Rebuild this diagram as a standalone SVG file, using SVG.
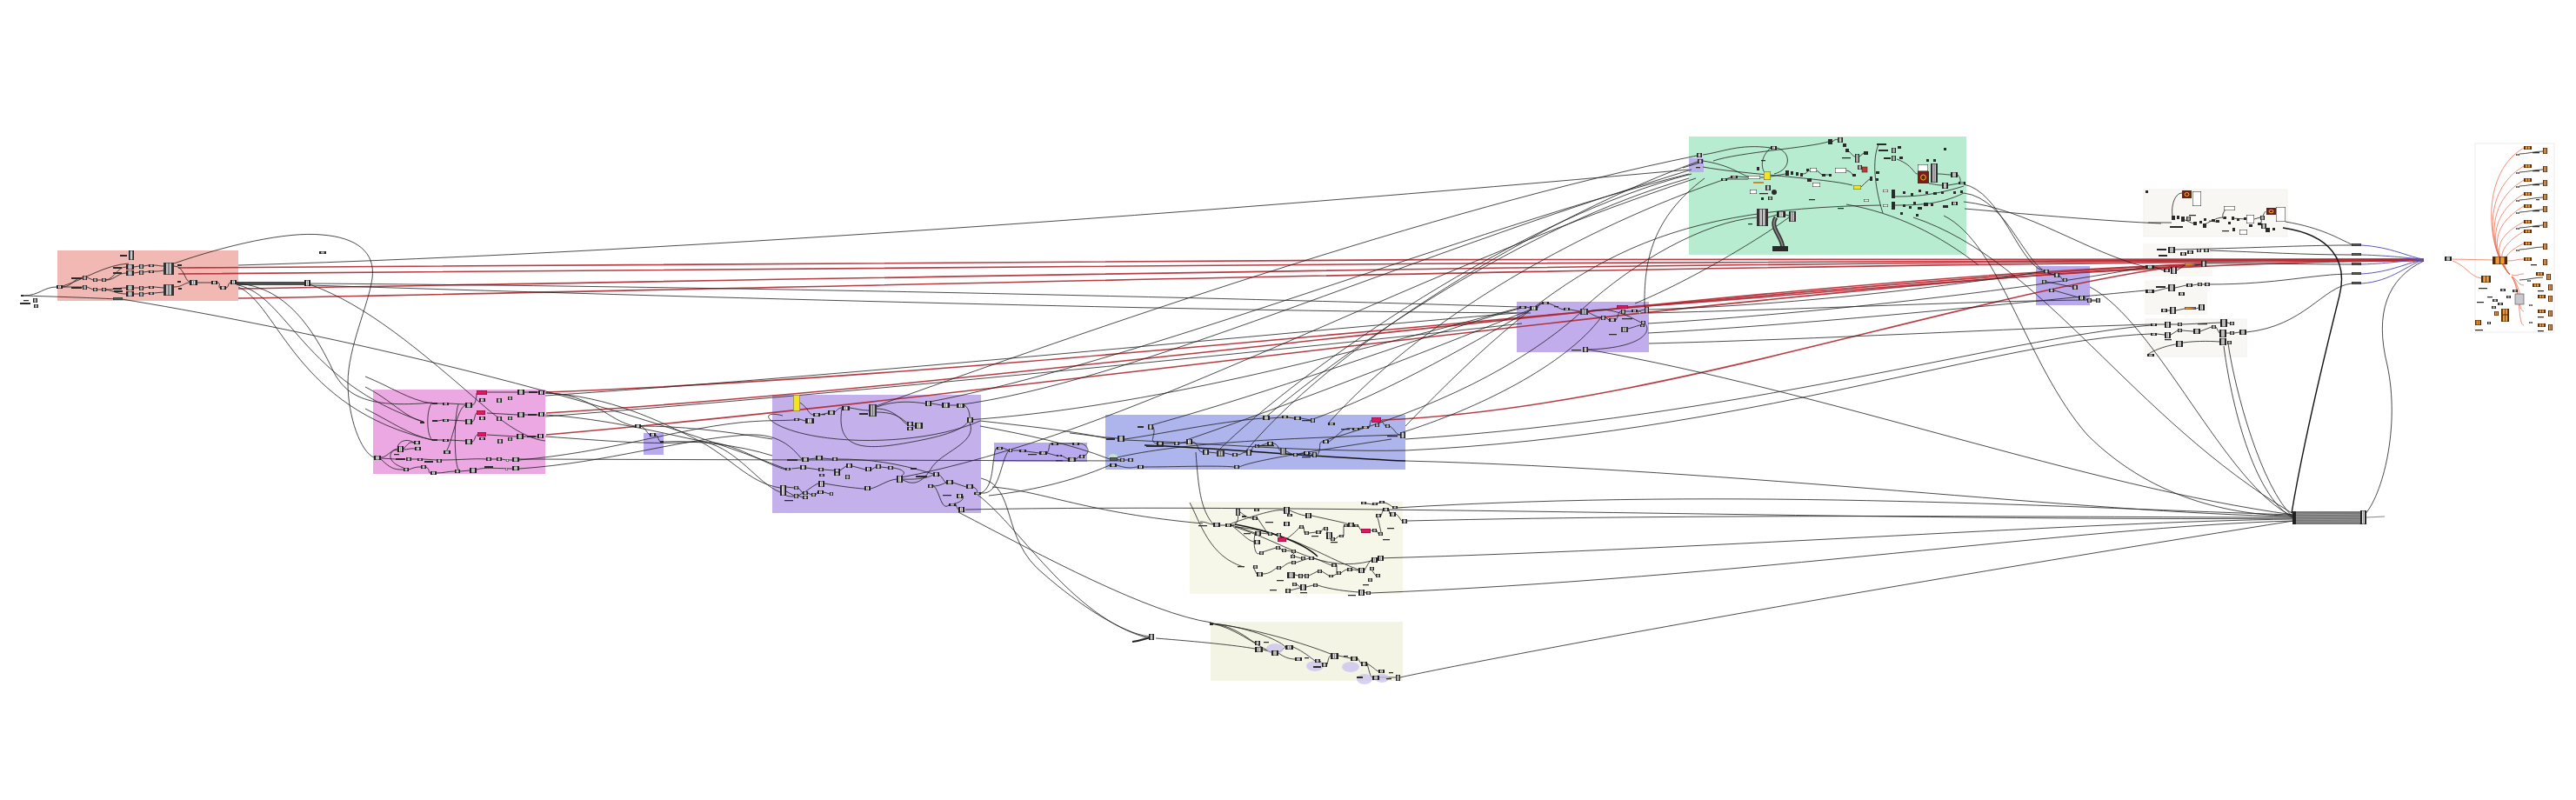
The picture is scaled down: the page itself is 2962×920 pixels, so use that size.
<svg xmlns="http://www.w3.org/2000/svg" width="2962" height="920" viewBox="0 0 2962 920">
<style>
.w{fill:none;stroke:#1e1e1e;stroke-width:0.8}
.wk{fill:none;stroke:#151515;stroke-width:1.4}
.r{fill:none;stroke:#b02630;stroke-width:1.6;stroke-opacity:0.9}
.bl{fill:none;stroke:#5858b8;stroke-width:1}
.or{fill:none;stroke:#ec6a4c;stroke-width:1;stroke-opacity:0.75}
.lb{fill:#c9c2ee;opacity:0.75}
</style>
<defs>
<symbol id="c" viewBox="0 0 10 10" preserveAspectRatio="none"><rect width="10" height="10" fill="#ececec" stroke="#111" stroke-width="1" vector-effect="non-scaling-stroke"/><rect width="2.8" height="10" fill="#222"/><rect x="7.2" width="2.8" height="10" fill="#222"/><rect x="4.5" y="0.5" width="1" height="9" fill="#777"/></symbol>
<symbol id="d" viewBox="0 0 10 10" preserveAspectRatio="none"><rect width="10" height="10" fill="#2a2a2a"/></symbol>
<symbol id="g" viewBox="0 0 10 10" preserveAspectRatio="none"><rect width="10" height="10" fill="#5a5a5a" stroke="#222" stroke-width="1" vector-effect="non-scaling-stroke"/></symbol>
<symbol id="wb" viewBox="0 0 10 10" preserveAspectRatio="none"><rect width="10" height="10" fill="#fff" stroke="#222" stroke-width="1" vector-effect="non-scaling-stroke"/></symbol>
<symbol id="p" viewBox="0 0 10 10" preserveAspectRatio="none"><rect width="10" height="10" fill="#e0175e" stroke="#7d0a32" stroke-width="1" vector-effect="non-scaling-stroke"/></symbol>
<symbol id="y" viewBox="0 0 10 10" preserveAspectRatio="none"><rect width="10" height="10" fill="#f2e22a" stroke="#555" stroke-width="1" vector-effect="non-scaling-stroke"/></symbol>
<symbol id="o" viewBox="0 0 10 10" preserveAspectRatio="none"><rect width="10" height="10" fill="#f39a35" stroke="#4d2a0c" stroke-width="1" vector-effect="non-scaling-stroke"/><rect width="2" height="10" fill="#4d2a0c"/><rect x="8" width="2" height="10" fill="#4d2a0c"/><rect x="4.6" width="0.8" height="10" fill="#4d2a0c"/></symbol>
<symbol id="br" viewBox="0 0 10 10" preserveAspectRatio="none"><rect width="10" height="10" fill="#7a1d12" stroke="#333" stroke-width="1" vector-effect="non-scaling-stroke"/><circle cx="5" cy="5" r="2.2" fill="none" stroke="#e8c23a" stroke-width="1" vector-effect="non-scaling-stroke"/></symbol>
<symbol id="t" viewBox="0 0 10 10" preserveAspectRatio="none"><rect width="10" height="10" fill="#c4c4c8" stroke="#111" stroke-width="1" vector-effect="non-scaling-stroke"/><rect width="2.5" height="10" fill="#333"/><rect x="7.5" width="2.5" height="10" fill="#333"/><rect x="4.6" width="0.8" height="10" fill="#444"/></symbol>
<linearGradient id="og" x1="0" x2="1" y1="0" y2="0"><stop offset="0" stop-color="#f5a030"/><stop offset="0.6" stop-color="#f08a20"/><stop offset="1" stop-color="#3060c0"/></linearGradient>
<symbol id="ob" viewBox="0 0 10 10" preserveAspectRatio="none"><rect width="10" height="10" fill="url(#og)" stroke="#333" stroke-width="1" vector-effect="non-scaling-stroke"/></symbol>
</defs>
<rect width="2962" height="920" fill="#ffffff"/>

<g id="groups">
<rect id="grp-red" x="66" y="288" width="208" height="58" fill="#f2b8b4"/>
<rect id="grp-magenta" x="429" y="448" width="198" height="97" fill="#eba8e2"/>
<rect id="grp-smallpurple1" x="740" y="498" width="23" height="25" fill="#b9a9ee"/>
<rect id="grp-purple1" x="888" y="454" width="240" height="136" fill="#c4b1ec"/>
<rect id="grp-smallpurple2" x="1143" y="509" width="107" height="22" fill="#b9a9ee"/>
<rect id="grp-blue" x="1271" y="477" width="345" height="63" fill="#aeb4ec"/>
<rect id="grp-purple2" x="1744" y="347" width="152" height="58" fill="#c1adeb"/>
<rect id="grp-green" x="1942" y="157" width="319" height="136" fill="#b8ecd0"/>
<rect id="grp-greenpurple" x="1942" y="182" width="17" height="16" fill="#b8b0e6"/>
<rect id="grp-smallpurple3" x="2341" y="306" width="62" height="45" fill="#b7a9ea"/>
<rect id="grp-cream1" x="1368" y="577" width="245" height="106" fill="#f6f6e9"/>
<rect id="grp-cream2" x="1392" y="715" width="221" height="68" fill="#f4f4e5"/>
<rect id="grp-panelA" x="2465" y="218" width="165" height="54" fill="#f8f7f3" stroke="#f1f1ec"/>
<rect id="grp-panelB" x="2464" y="280" width="80" height="38" fill="#f9f8f5"/>
<rect id="grp-panelB2" x="2466" y="322" width="72" height="40" fill="#f8f7f3"/>
<rect id="grp-panelC" x="2467" y="367" width="116" height="43" fill="#f8f7f3" stroke="#f1f1ec"/>
<rect id="grp-rightpanel" x="2846" y="165" width="91" height="217" fill="#ffffff" stroke="#ececec"/>
</g>

<g id="connectors">
<path class="r" d="M205,308 C 900,300 2000,296 2787,298"/>
<path class="r" d="M205,315 C 900,310 2000,298 2787,298"/>
<path class="r" d="M274,332 C 1000,320 2000,300 2787,299"/>
<path class="r" d="M274,343 C 1000,330 2000,302 2787,300"/>
<path class="r" d="M628,451 C 1200,430 2000,330 2531,303"/>
<path class="r" d="M628,475 C 1200,440 2000,320 2531,304"/>
<path class="r" d="M628,500 C 1200,450 2000,330 2531,305"/>
<path class="r" d="M1589,483 C 1900,470 2250,340 2512,305"/>
<path class="r" d="M1872,353 C 2100,340 2350,305 2787,299"/>

<path class="w" d="M27,340 C 45,340 50,330 65,330"/>
<path class="w" d="M72,330 C 82,330 85,320 95,319"/>
<path class="w" d="M72,330 C 82,330 85,330 95,330"/>
<path class="w" d="M72,329 C 100,320 120,305 148,303"/>
<path class="w" d="M100,319 L107,322 M112,322 L117,322 M100,330 L107,333 M112,333 L117,333"/>
<path class="w" d="M122,322 C 132,320 135,307 145,307 M122,322 C 132,322 135,314 145,314 M122,333 C 132,333 135,331 145,331 M122,333 C 132,335 135,338 145,338"/>
<path class="w" d="M154,307 L160,306 M154,314 L160,313 M165,306 L171,305 M165,313 L171,312 M177,305 C 182,305 183,306 188,306 M177,312 C 182,312 183,312 188,311"/>
<path class="w" d="M154,331 L160,331 M154,338 L160,338 M165,331 L171,330 M165,338 L171,337 M177,330 L188,331 M177,337 L188,336"/>
<path class="w" d="M200,330 C 210,330 212,325 218,325 M200,306 C 212,306 212,323 218,324 M227,325 L243,325 M250,325 C 255,325 250,331 253,331 M260,331 C 263,331 262,325 265,325"/>
<path class="wk" d="M272,325 L350,325 M272,327 L350,327"/>
<path class="w" d="M25,340 C 100,342 130,344 140,344"/>
<path class="w" d="M200,303 C 260,282 330,266 370,270 C 410,273 432,290 428,320 C 424,350 400,400 400,440 C 400,480 415,520 430,526"/>
<path class="w" d="M273,326 C 330,330 360,380 380,420 C 395,455 420,470 497,463"/>
<path class="w" d="M274,328 C 330,340 350,440 487,485"/>
<path class="w" d="M274,330 C 320,350 340,470 497,506"/>
<path class="w" d="M356,327 C 420,350 480,400 560,470 C 590,495 610,505 627,507"/>
<path class="w" d="M140,344 C 300,370 650,440 903,539"/>
<path class="w" d="M356,326 C 900,330 1500,345 1747,353"/>
<path class="w" d="M356,328 C 900,345 1400,358 1760,360"/>
<path class="w" d="M274,305 C 800,290 1500,235 1942,195"/>
<path class="w" d="M627,455 C 1000,430 1500,380 1744,360"/>
<path class="w" d="M627,479 C 1000,450 1500,400 1750,372"/>

<path class="w" d="M560,451 L595,451 M603,451 L619,451 M560,475 L595,477 M603,477 L619,477 M560,500 L594,502 M602,502 L618,502"/>
<path class="w" d="M543,466 C 548,465 548,452 548,452 M543,485 C 546,485 546,475 548,475 M543,508 C 546,508 546,500 549,500"/>
<path class="w" d="M516,464 L535,465 M516,483 L535,484 M516,506 L535,507 M503,464 L509,464 M503,484 L509,483 M503,506 L509,506"/>
<path class="w" d="M497,463 C 490,470 490,500 497,506 M513,519 C 520,510 525,470 535,466 M527,465 C 522,480 522,530 527,540"/>
<path class="w" d="M464,516 C 470,510 470,508 476,509 M464,517 C 470,517 472,515 477,516 M438,526 C 445,526 450,517 457,516 M438,527 L455,528 M471,528 L480,528 M486,528 L502,529"/>
<path class="w" d="M508,529 C 530,529 545,527 559,528 M565,528 L571,528 M577,528 L582,529 M585,529 L589,529"/>
<path class="w" d="M438,528 C 450,540 455,540 464,540 M470,540 C 478,537 480,537 484,537 M490,537 C 495,540 492,544 495,544 M502,544 C 510,544 515,542 523,542 M529,542 L540,541 M548,540 C 555,538 560,538 589,539"/>
<path class="w" d="M457,514 C 460,505 470,505 476,509 M464,538 C 440,530 450,515 457,518"/>
<path class="w" d="M420,433 C 450,445 470,460 497,464 M420,445 C 450,460 465,480 487,485 M420,470 C 450,485 470,500 497,506"/>

<path class="w" d="M627,452 C 700,455 760,485 800,505 C 840,525 860,555 897,561"/>
<path class="w" d="M627,477 C 700,482 760,498 810,508 C 850,518 870,555 897,566"/>
<path class="w" d="M627,502 C 700,507 750,512 800,508 C 840,505 870,530 903,540"/>
<path class="w" d="M597,529 C 700,520 770,495 850,486 C 880,483 895,484 913,483"/>
<path class="w" d="M597,539 C 700,532 780,505 860,500 C 900,498 915,520 922,528"/>
<path class="w" d="M763,508 C 800,506 850,512 888,524 M737,490 C 780,490 830,495 888,505"/>
<path class="w" d="M597,528 L1290,530"/>
<path class="w" d="M627,452 C 680,452 700,485 730,490 M737,490 C 742,492 744,498 747,500 M754,500 C 757,502 757,506 759,508"/>

<path class="w" d="M920,463 C 930,470 930,477 935,477 M943,477 L952,475 M960,474 C 964,470 965,469 968,469 M977,469 C 985,470 990,472 999,472"/>
<path class="w" d="M1008,470 C 1030,470 1040,488 1043,488 M1008,474 C 1040,474 1040,490 1052,490 M1008,468 C 1030,460 1050,462 1064,464 M1071,464 L1083,466 M1092,466 L1100,466 M1109,466 C 1115,470 1115,478 1115,481 M919,482 L926,484"/>
<path class="w" d="M900,478 C 870,470 880,492 940,502 C 1000,512 1080,505 1127,484"/>
<path class="w" d="M968,470 C 960,522 1000,518 1060,506 C 1100,498 1110,490 1114,484"/>
<path class="w" d="M1115,486 C 1125,510 1080,520 1070,540 C 1060,555 1050,560 1035,550"/>
<path class="w" d="M930,528 L938,527 M946,527 L957,528 M963,528 C 1000,528 1030,532 1073,545"/>
<path class="w" d="M910,539 L920,538 M927,538 L941,540 M947,540 L959,541 M966,541 L973,536 M980,536 L995,540 M1002,540 L1007,537 M1013,537 L1021,538 M1027,538 C 1040,540 1045,545 1031,550"/>
<path class="w" d="M904,560 L913,561 M904,565 L913,570 M918,561 L923,567 M918,570 L923,572 M929,567 L933,569 M938,569 L940,566 M947,566 L954,568"/>
<path class="w" d="M904,570 C 920,575 930,560 941,556 M948,556 C 970,560 990,562 994,562 M1001,562 C 1010,560 1020,552 1031,551 M1038,551 C 1060,552 1070,548 1073,546"/>
<path class="w" d="M1080,546 C 1085,550 1085,554 1088,555 M1096,555 L1111,560 M1073,559 C 1080,559 1085,556 1088,555 M1119,560 C 1125,563 1125,567 1120,568 M1107,570 C 1110,575 1100,580 1091,580 M1099,580 C 1100,583 1101,585 1102,586 M1091,581 C 1080,590 1080,550 1067,559"/>
<path class="w" d="M1128,567 C 1145,560 1140,520 1146,515 M1128,567 C 1150,570 1150,530 1160,518"/>
<path class="w" d="M1153,515 L1160,518 M1164,518 L1172,518 M1180,519 L1195,521 M1204,521 C 1208,515 1205,510 1209,510 M1217,510 L1233,510 M1204,521 L1215,524 M1221,524 L1228,528 M1237,528 L1241,525 M1241,510 C 1250,510 1255,520 1247,524"/>

<path class="w" d="M1112,483 C 1300,470 1500,420 1747,354"/>
<path class="w" d="M1100,466 C 1300,440 1600,300 1945,195"/>
<path class="w" d="M1064,463 C 1300,420 1700,260 1942,200"/>
<path class="w" d="M1031,550 C 1300,500 1600,320 1950,205"/>
<path class="w" d="M999,470 C 1250,380 1650,240 1951,179"/>
<path class="w" d="M1127,484 C 1180,490 1230,495 1272,504 M1127,490 C 1180,500 1230,510 1276,528 M1137,570 C 1180,565 1230,555 1276,535"/>
<path class="w" d="M1110,586 C 1500,578 2200,600 2637,596"/>
<path class="w" d="M1141,560 C 1200,565 1250,590 1383,602"/>
<path class="w" d="M1128,550 C 1170,560 1150,620 1200,660 C 1240,695 1290,728 1321,732"/>
<path class="w" d="M1120,566 C 1170,600 1230,710 1321,734"/>

<path class="w" d="M1230,498 C 1250,500 1265,503 1285,504 M1293,505 C 1330,500 1400,485 1452,481 M1460,481 L1474,480 M1481,480 L1488,481 M1496,481 L1507,483"/>
<path class="w" d="M1326,491 C 1330,500 1320,508 1330,510 M1338,510 L1350,510 M1356,510 L1364,508 M1371,508 C 1380,510 1375,519 1383,520 M1390,520 L1399,521 M1408,521 L1417,523 M1423,523 C 1428,523 1428,520 1433,520 M1439,520 C 1440,515 1440,513 1443,513 M1448,513 L1457,510"/>
<path class="w" d="M1464,510 C 1470,510 1470,518 1472,518 M1479,519 L1487,523 M1492,523 L1499,521 M1506,521 L1509,523 M1515,523 C 1520,515 1515,508 1521,508 M1528,508 C 1540,500 1545,490 1555,493 M1563,493 L1566,492 M1574,492 C 1576,488 1575,484 1577,483 M1588,483 L1593,490 M1598,490 C 1605,495 1605,500 1610,500"/>
<path class="w" d="M1284,528 L1288,529 M1293,529 L1297,529 M1284,535 C 1300,540 1303,537 1308,537 M1315,537 C 1350,537 1400,535 1419,537 M1425,537 C 1440,530 1500,520 1600,505"/>
<path class="w" d="M1276,528 C 1350,510 1450,505 1610,500 M1293,506 C 1400,510 1500,520 1616,518"/>
<path class="wk" d="M1316,512 C 1400,515 1500,525 1616,530"/>
<path class="w" d="M1320,490 C 1500,440 1650,380 1747,355 M1364,506 C 1500,460 1700,380 1760,356 M1507,483 C 1600,450 1700,390 1773,349 M1521,507 C 1650,470 1750,420 1817,360 M1610,498 C 1700,470 1800,420 1841,365"/>
<path class="w" d="M1942,205 C 1750,260 1550,400 1455,480 M1952,186 C 1800,240 1550,380 1433,518 M1945,200 C 1750,250 1500,420 1399,520 M1990,204 C 1850,250 1650,350 1527,487"/>
<path class="w" d="M1616,530 C 2000,540 2400,590 2637,594 M1616,518 C 2000,500 2300,390 2473,384 M1616,505 C 2000,480 2300,390 2473,374"/>
<path class="w" d="M1375,520 C 1378,560 1380,585 1395,603"/>

<path class="w" d="M1755,353 L1759,354 M1768,354 C 1770,350 1770,349 1773,349 M1781,349 C 1790,352 1792,355 1798,356 M1805,356 L1817,358 M1826,359 C 1832,362 1836,365 1841,365 M1846,365 L1850,368 M1858,368 C 1862,362 1860,358 1864,358 M1869,358 L1876,358 M1883,358 L1891,356 M1872,378 C 1880,376 1884,374 1886,374"/>
<path class="w" d="M1891,372 C 1900,380 1890,400 1826,402 M1826,358 C 1850,352 1870,362 1887,371"/>
<path class="w" d="M1895,356 C 2100,350 2300,320 2350,312 M1895,372 C 2100,360 2350,330 2467,307 M1895,383 C 2100,372 2350,345 2467,334 M1896,395 C 2100,390 2300,378 2473,373 M1895,360 C 2100,355 2300,345 2410,345"/>
<path class="w" d="M1826,402 C 2100,450 2400,560 2637,592"/>
<path class="w" d="M1960,205 C 1900,250 1890,300 1891,353"/>

<path class="w" d="M1958,178 C 1980,175 2000,165 2036,170 M2043,170 C 2060,175 2060,195 2040,200 M2036,170 C 2025,180 2025,190 2028,197 M2024,204 L2028,204 M1998,203 L2010,204 M1986,206 L2010,206 M1958,185 C 1990,190 2000,200 2010,203"/>
<path class="w" d="M1958,192 C 2000,200 2100,205 2130,213 M1935,193 L1958,186 M2036,203 L2053,200 M2073,200 C 2078,200 2078,196 2081,196 M2089,196 L2095,201 M2099,201 L2103,201 M2123,196 C 2128,197 2130,200 2130,201 M2140,215 C 2145,210 2148,207 2150,206"/>
<path class="w" d="M2107,163 C 2110,160 2112,160 2113,161 M2126,174 C 2130,178 2131,180 2133,180 M2138,180 L2143,176 M1970,185 C 2000,175 2080,170 2102,163 M2160,166 C 2150,190 2160,230 2165,245"/>
<path class="w" d="M1820,355 C 1880,300 1960,255 2020,250 M1616,490 C 1800,300 1900,240 2163,236 M2123,235 C 2180,245 2230,270 2275,305 M1880,349 C 1950,320 2030,270 2057,250 M2033,250 L2043,247 M2053,247 L2057,248"/>
<path d="M2042,250 C 2034,262 2050,272 2050,286" fill="none" stroke="#3a3a3a" stroke-width="5"/>
<path d="M2042,250 C 2034,262 2050,272 2050,286" fill="none" stroke="#8a8a8a" stroke-width="1.5"/>
<path class="w" d="M2181,183 C 2200,190 2200,200 2205,200 M2228,200 C 2235,200 2238,201 2243,201 M2251,201 C 2255,205 2255,210 2252,210 M2218,211 C 2225,212 2228,213 2233,213 M2240,213 L2252,211 M2179,226 C 2195,226 2220,226 2258,214 M2179,236 C 2200,236 2230,236 2258,222"/>
<path class="w" d="M2258,212 C 2300,220 2320,300 2348,311 M2258,222 C 2310,228 2330,315 2362,316 M2258,232 C 2330,240 2400,290 2467,307 M2259,240 C 2350,248 2420,254 2485,257"/>
<path class="w" d="M2235,248 C 2300,280 2330,420 2400,500 C 2480,580 2580,593 2637,593"/>
<path class="w" d="M2200,250 C 2350,300 2450,480 2637,591"/>

<path class="w" d="M2499,287 C 2600,285 2650,282 2704,282 M2541,288 C 2600,290 2650,293 2704,293 M2537,303 C 2620,303 2660,304 2704,304 M2541,327 C 2620,327 2660,315 2704,315 M2583,382 C 2650,375 2670,330 2704,326 M2628,255 C 2670,262 2690,275 2704,281"/>
<path class="wk" d="M2625,262 C 2680,270 2700,300 2690,340 C 2680,380 2650,500 2635,590"/>
<path class="bl" d="M2715,282 C 2750,284 2770,296 2787,298 M2715,293 C 2750,294 2770,297 2787,298 M2715,304 C 2750,303 2770,299 2787,298 M2715,315 C 2750,313 2770,301 2787,299 M2715,326 C 2750,324 2770,303 2787,299"/>
<path class="w" d="M2787,300 C 2745,320 2730,360 2745,420 C 2760,490 2740,570 2718,593"/>
<path class="w" d="M2562,395 C 2570,450 2600,560 2637,595 M2557,398 C 2565,460 2590,570 2637,596 M2403,330 C 2480,370 2560,560 2637,594"/>
<path class="w" d="M2477,307 L2488,311 M2503,311 L2512,305 M2525,305 L2531,304 M2477,335 L2493,331 M2501,331 L2514,328 M2521,328 L2527,327 M2532,327 L2535,327 M2492,357 L2495,357 M2502,357 L2512,355 M2525,355 L2528,354"/>
<path class="w" d="M2480,373 L2489,373 M2496,373 L2504,373 M2509,373 L2553,371 M2561,371 L2564,372 M2480,384 L2489,385 M2496,385 L2504,380 M2509,380 L2522,381 M2530,381 L2543,376 M2548,376 L2552,383 M2560,383 L2564,383 M2569,383 L2575,382 M2504,395 C 2520,392 2540,392 2552,393 M2469,408 C 2480,400 2500,396 2502,396"/>
<path class="w" d="M2499,252 C 2495,240 2500,222 2509,222 M2535,258 C 2545,253 2550,250 2557,250 M2560,240 C 2555,245 2555,250 2557,252 M2605,243 C 2600,250 2600,255 2600,258 M2470,256 L2497,256 M2510,252 L2522,257 M2540,254 L2548,255 M2566,251 L2583,252 M2592,252 L2599,250"/>
<path class="w" d="M2350,312 L2362,316 M2368,317 L2372,322 M2353,324 L2383,330 M2362,334 L2390,342 M2397,342 L2400,345 M2405,346 L2410,346"/>

<path class="or" d="M2819,298 L2866,299 M2820,300 C 2835,305 2840,318 2853,320"/>
<path class="or" d="M2886,316 C 2860,290 2850,200 2902,170 M2886,316 C 2862,290 2852,220 2902,191 M2886,316 C 2864,290 2855,235 2902,207 M2886,316 C 2866,292 2857,250 2902,223 M2886,316 C 2868,292 2860,262 2902,237 M2886,316 C 2870,295 2864,275 2902,255 M2886,316 C 2873,300 2870,285 2902,266 M2886,316 C 2876,305 2876,292 2902,280"/>
<path class="or" d="M2883,300 C 2892,300 2894,298 2902,298 M2888,316 C 2895,318 2895,315 2902,315 M2888,318 C 2896,322 2895,328 2902,328 M2888,318 C 2897,326 2895,341 2902,341 M2888,318 C 2898,330 2895,358 2902,358 M2888,318 C 2899,335 2895,374 2902,374"/>
<path class="w" d="M2897,177 C 2905,177 2915,174 2924,174 M2897,198 C 2905,198 2915,195 2924,195 M2897,214 C 2905,214 2915,211 2924,211 M2897,230 C 2905,230 2915,227 2924,227 M2897,244 C 2905,244 2915,241 2924,241 M2897,262 C 2905,262 2915,259 2924,259 M2897,287 C 2905,287 2915,284 2924,284 M2897,322 C 2905,322 2915,319 2924,319"/>

<path class="w" d="M1380,600 C 1388,600 1390,603 1395,603 M1403,604 L1409,604 M1416,604 C 1425,604 1425,590 1421,589 M1426,589 C 1430,592 1435,596 1440,596 M1446,596 L1458,614 M1416,604 C 1425,606 1435,610 1443,613 M1416,604 C 1430,615 1435,622 1442,623"/>
<path class="w" d="M1450,613 L1458,614 M1463,614 L1468,615 M1479,620 C 1490,612 1495,606 1494,606 M1499,606 L1500,613 M1505,613 L1513,612 M1519,612 C 1521,608 1521,608 1522,608 M1527,608 L1525,614 M1532,616 L1530,620 M1535,620 L1540,616 M1545,616 C 1545,610 1545,606 1545,605 M1562,605 L1565,610 M1576,610 L1578,610 M1583,610 L1585,614"/>
<path class="w" d="M1588,612 C 1585,600 1585,595 1582,593 M1588,593 C 1590,588 1590,586 1590,586 M1597,586 L1598,591 M1605,591 C 1610,595 1610,598 1612,599 M1416,602 C 1450,590 1470,585 1476,587 M1483,587 C 1490,590 1495,592 1501,593 M1508,593 C 1540,600 1550,602 1550,603 M1571,579 L1578,580 M1584,579 L1586,578 M1592,578 C 1598,580 1600,582 1601,583"/>
<path class="w" d="M1420,606 C 1480,610 1520,640 1562,655 M1420,606 C 1480,625 1520,660 1577,645"/>
<path class="wk" d="M1420,603 C 1460,610 1500,625 1515,640"/>
<path class="w" d="M1441,652 L1445,660 M1452,660 C 1460,660 1465,655 1468,653 M1473,653 C 1478,650 1480,647 1485,647 M1490,647 L1505,642 M1511,642 C 1520,645 1525,648 1531,650 M1537,650 L1537,659 M1542,659 C 1545,656 1548,655 1549,655 M1555,655 L1562,656 M1569,656 C 1572,650 1575,645 1577,644 M1576,654 L1582,662"/>
<path class="w" d="M1485,660 L1493,662 M1498,662 L1500,662 M1505,662 L1515,657 M1520,657 L1528,662 M1533,662 L1537,660 M1491,672 L1495,675 M1502,675 L1510,673 M1483,679 L1495,676 M1515,673 C 1530,678 1550,680 1562,681 M1569,681 L1571,682"/>
<path class="w" d="M1448,636 L1467,630 M1472,630 L1474,633 M1479,633 L1485,634 M1490,634 L1484,640 M1489,640 L1496,642 M1443,614 C 1440,630 1445,640 1448,636"/>
<path class="w" d="M1368,578 C 1380,600 1390,640 1430,652"/>
<path class="w" d="M1618,599 C 2000,590 2400,595 2637,595 M1584,642 C 2000,630 2400,600 2637,597 M1576,682 C 2000,665 2400,605 2637,599 M1605,584 C 2000,560 2400,585 2637,592"/>

<path class="w" d="M1393,717 C 1420,720 1435,735 1443,739 M1393,717 C 1420,722 1440,740 1462,750 M1393,717 C 1430,720 1470,735 1478,744 M1393,717 C 1440,722 1500,740 1530,752 M1329,734 C 1380,738 1420,742 1443,746"/>
<path class="w" d="M1452,747 L1462,750 M1470,750 C 1475,748 1476,745 1478,744 M1487,744 C 1500,750 1505,755 1512,760 M1470,751 C 1478,757 1485,758 1489,758 M1518,760 L1520,764 M1526,764 C 1528,756 1528,755 1530,754 M1539,754 L1553,757 M1561,757 L1565,763 M1572,763 C 1580,768 1582,771 1585,772 M1572,763 C 1575,775 1576,778 1578,779 M1586,779 L1605,779"/>
<path class="w" d="M1610,779 C 1650,770 2000,700 2637,599"/>
<path class="w" d="M1102,589 C 1200,640 1320,705 1393,716"/>
<path d="M1302,738 C 1312,737 1318,734 1323,733" fill="none" stroke="#222" stroke-width="2.2"/>

<path d="M2721,595 L2742,594" fill="none" stroke="#666" stroke-width="0.8"/>
</g>

<g id="nodes">
<g id="nodes-red">
<use id="r1" href="#c" x="148" y="288" width="6" height="11"/>
<use id="r2" href="#d" x="138" y="293" width="8" height="2"/>
<use id="r3" href="#c" x="145" y="304" width="9" height="6"/>
<use id="r4" href="#c" x="145" y="311" width="9" height="6"/>
<use id="r5" href="#c" x="160" y="304" width="5" height="5"/>
<use id="r6" href="#c" x="160" y="311" width="5" height="5"/>
<use id="r7" href="#c" x="171" y="304" width="6" height="3"/>
<use id="r8" href="#c" x="171" y="311" width="6" height="3"/>
<use id="r9" href="#t" x="188" y="302" width="12" height="14"/>
<use id="r10" href="#d" x="204" y="304" width="5" height="2"/>
<use id="r11" href="#c" x="145" y="328" width="9" height="6"/>
<use id="r12" href="#c" x="145" y="335" width="9" height="6"/>
<use id="r13" href="#c" x="160" y="329" width="5" height="5"/>
<use id="r14" href="#c" x="160" y="336" width="5" height="5"/>
<use id="r15" href="#c" x="171" y="329" width="6" height="3"/>
<use id="r16" href="#c" x="171" y="336" width="6" height="3"/>
<use id="r17" href="#t" x="188" y="327" width="12" height="13"/>
<use id="r18" href="#d" x="204" y="323" width="4" height="2"/>
<use id="r19" href="#d" x="205" y="331" width="4" height="2"/>
<use id="r20" href="#c" x="218" y="322" width="9" height="6"/>
<use id="r21" href="#c" x="243" y="323" width="7" height="4"/>
<use id="r22" href="#c" x="253" y="329" width="7" height="4"/>
<use id="r23" href="#c" x="265" y="322" width="7" height="5"/>
<use id="r24" href="#c" x="350" y="322" width="7" height="7"/>
<use id="r25" href="#c" x="65" y="328" width="7" height="4"/>
<use id="r26" href="#d" x="82" y="319" width="12" height="2"/>
<use id="r27" href="#c" x="95" y="317" width="5" height="5"/>
<use id="r28" href="#c" x="107" y="320" width="5" height="4"/>
<use id="r29" href="#c" x="117" y="320" width="5" height="4"/>
<use id="r30" href="#d" x="82" y="330" width="12" height="2"/>
<use id="r31" href="#c" x="95" y="328" width="5" height="5"/>
<use id="r32" href="#c" x="107" y="331" width="5" height="4"/>
<use id="r33" href="#c" x="117" y="331" width="5" height="4"/>
<use id="r34" href="#d" x="130" y="307" width="10" height="2"/>
<use id="r35" href="#d" x="130" y="313" width="10" height="2"/>
<use id="r36" href="#d" x="130" y="331" width="10" height="2"/>
<use id="r37" href="#d" x="131" y="334" width="10" height="2"/>
<use id="r38" href="#g" x="130" y="342" width="11" height="3"/>
<use id="r39" href="#d" x="24" y="339" width="3" height="2"/>
<use id="r40" href="#c" x="38" y="343" width="5" height="5"/>
<use id="r41" href="#c" x="39" y="350" width="5" height="4"/>
<use id="r42" href="#d" x="23" y="348" width="12" height="2"/>
<use id="r43" href="#d" x="27" y="345" width="6" height="1.5"/>
<use id="r44" href="#c" x="367" y="289" width="8" height="3"/>
</g>
<g id="nodes-magenta">
<use id="m1" href="#p" x="548" y="449" width="12" height="5"/>
<use id="m2" href="#c" x="595" y="448" width="8" height="6"/>
<use id="m3" href="#d" x="608" y="450" width="10" height="2"/>
<use id="m4" href="#c" x="619" y="449" width="7" height="5"/>
<use id="m5" href="#c" x="551" y="458" width="7" height="4"/>
<use id="m6" href="#c" x="571" y="458" width="6" height="5"/>
<use id="m7" href="#c" x="584" y="456" width="5" height="4"/>
<use id="m8" href="#c" x="535" y="463" width="8" height="6"/>
<use id="m9" href="#d" x="497" y="463" width="6" height="2"/>
<use id="m10" href="#c" x="509" y="463" width="7" height="3"/>
<use id="m11" href="#p" x="548" y="472" width="10" height="5"/>
<use id="m12" href="#c" x="595" y="474" width="8" height="6"/>
<use id="m13" href="#d" x="607" y="476" width="10" height="2"/>
<use id="m14" href="#c" x="619" y="474" width="7" height="5"/>
<use id="m15" href="#c" x="551" y="479" width="7" height="4"/>
<use id="m16" href="#c" x="571" y="479" width="6" height="5"/>
<use id="m17" href="#c" x="584" y="479" width="5" height="4"/>
<use id="m18" href="#c" x="535" y="482" width="8" height="6"/>
<use id="m19" href="#d" x="483" y="485" width="5" height="2"/>
<use id="m20" href="#d" x="497" y="483" width="6" height="2"/>
<use id="m21" href="#c" x="509" y="482" width="7" height="3"/>
<use id="m22" href="#p" x="549" y="497" width="10" height="5"/>
<use id="m23" href="#c" x="594" y="499" width="8" height="6"/>
<use id="m24" href="#d" x="606" y="501" width="10" height="2"/>
<use id="m25" href="#c" x="618" y="499" width="7" height="5"/>
<use id="m26" href="#c" x="551" y="503" width="7" height="3"/>
<use id="m27" href="#c" x="572" y="505" width="6" height="5"/>
<use id="m28" href="#c" x="584" y="503" width="5" height="4"/>
<use id="m29" href="#c" x="535" y="505" width="8" height="6"/>
<use id="m30" href="#d" x="497" y="505" width="6" height="2"/>
<use id="m31" href="#c" x="509" y="505" width="7" height="3"/>
<use id="m32" href="#c" x="476" y="507" width="7" height="4"/>
<use id="m33" href="#c" x="477" y="514" width="7" height="4"/>
<use id="m34" href="#c" x="457" y="513" width="7" height="7"/>
<use id="m35" href="#d" x="453" y="522" width="6" height="1.5"/>
<use id="m36" href="#c" x="430" y="524" width="8" height="5"/>
<use id="m37" href="#c" x="510" y="518" width="8" height="4"/>
<use id="m38" href="#c" x="467" y="526" width="6" height="4"/>
<use id="m39" href="#d" x="455" y="527" width="11" height="2"/>
<use id="m40" href="#c" x="480" y="527" width="6" height="3"/>
<use id="m41" href="#d" x="488" y="530" width="10" height="2"/>
<use id="m42" href="#c" x="502" y="528" width="6" height="4"/>
<use id="m43" href="#c" x="464" y="538" width="6" height="4"/>
<use id="m44" href="#c" x="484" y="535" width="6" height="4"/>
<use id="m45" href="#c" x="495" y="542" width="7" height="4"/>
<use id="m46" href="#c" x="523" y="540" width="6" height="4"/>
<use id="m47" href="#c" x="540" y="538" width="8" height="6"/>
<use id="m48" href="#c" x="559" y="526" width="6" height="4"/>
<use id="m49" href="#c" x="571" y="526" width="6" height="4"/>
<use id="m50" href="#wb" x="582" y="528" width="3" height="3"/>
<use id="m51" href="#c" x="589" y="526" width="8" height="5"/>
<use id="m52" href="#d" x="557" y="536" width="10" height="2"/>
<use id="m53" href="#wb" x="581" y="538" width="3" height="3"/>
<use id="m54" href="#c" x="589" y="536" width="8" height="5"/>
<use id="m55" href="#c" x="730" y="488" width="7" height="4"/>
<use id="m56" href="#c" x="747" y="498" width="7" height="4"/>
<use id="m57" href="#d" x="759" y="507" width="4" height="2"/>
</g>
<g id="nodes-purple1">
<use id="p1" href="#y" x="912" y="454" width="8" height="19"/>
<use id="p2" href="#c" x="935" y="475" width="8" height="4"/>
<use id="p3" href="#d" x="945" y="476" width="4" height="1.5"/>
<use id="p4" href="#c" x="952" y="472" width="8" height="5"/>
<use id="p5" href="#c" x="913" y="481" width="6" height="3"/>
<use id="p6" href="#c" x="926" y="481" width="10" height="6"/>
<use id="p7" href="#c" x="968" y="467" width="9" height="5"/>
<use id="p8" href="#d" x="988" y="475" width="10" height="2"/>
<use id="p9" href="#t" x="999" y="465" width="9" height="14"/>
<use id="p10" href="#c" x="1043" y="485" width="7" height="5"/>
<use id="p11" href="#c" x="1043" y="491" width="7" height="4"/>
<use id="p12" href="#c" x="1052" y="486" width="9" height="7"/>
<use id="p13" href="#c" x="1064" y="461" width="7" height="6"/>
<use id="p14" href="#c" x="1083" y="463" width="9" height="6"/>
<use id="p15" href="#c" x="1100" y="464" width="9" height="5"/>
<use id="p16" href="#c" x="1112" y="480" width="7" height="6"/>
<use id="p17" href="#c" x="922" y="526" width="8" height="5"/>
<use id="p18" href="#c" x="938" y="524" width="8" height="5"/>
<use id="p19" href="#c" x="957" y="526" width="6" height="4"/>
<use id="p20" href="#d" x="905" y="528" width="12" height="2"/>
<use id="p21" href="#c" x="903" y="538" width="6" height="3"/>
<use id="p22" href="#c" x="920" y="535" width="7" height="5"/>
<use id="p23" href="#c" x="941" y="538" width="6" height="4"/>
<use id="p24" href="#c" x="959" y="539" width="7" height="4"/>
<use id="p25" href="#c" x="959" y="543" width="7" height="4"/>
<use id="p26" href="#c" x="973" y="533" width="7" height="5"/>
<use id="p27" href="#c" x="995" y="537" width="7" height="5"/>
<use id="p28" href="#c" x="1007" y="534" width="6" height="5"/>
<use id="p29" href="#c" x="1021" y="536" width="6" height="4"/>
<use id="p30" href="#d" x="1047" y="538" width="7" height="2"/>
<use id="p31" href="#c" x="942" y="545" width="6" height="3"/>
<use id="p32" href="#c" x="972" y="546" width="5" height="5"/>
<use id="p33" href="#c" x="941" y="553" width="7" height="7"/>
<use id="p34" href="#c" x="897" y="558" width="7" height="12"/>
<use id="p35" href="#c" x="913" y="559" width="5" height="4"/>
<use id="p36" href="#c" x="913" y="568" width="5" height="5"/>
<use id="p37" href="#c" x="923" y="565" width="6" height="4"/>
<use id="p38" href="#c" x="923" y="570" width="6" height="4"/>
<use id="p39" href="#c" x="933" y="567" width="5" height="4"/>
<use id="p40" href="#c" x="940" y="564" width="7" height="4"/>
<use id="p41" href="#c" x="954" y="566" width="4" height="4"/>
<use id="p42" href="#d" x="902" y="575" width="10" height="1.5"/>
<use id="p43" href="#c" x="1031" y="547" width="7" height="8"/>
<use id="p44" href="#c" x="994" y="559" width="7" height="5"/>
<use id="p45" href="#d" x="1053" y="547" width="13" height="2"/>
<use id="p46" href="#c" x="1073" y="543" width="7" height="5"/>
<use id="p47" href="#c" x="1067" y="557" width="6" height="4"/>
<use id="p48" href="#c" x="1088" y="552" width="8" height="5"/>
<use id="p49" href="#c" x="1111" y="557" width="8" height="5"/>
<use id="p50" href="#c" x="1120" y="566" width="8" height="3"/>
<use id="p51" href="#d" x="1084" y="569" width="10" height="1.5"/>
<use id="p52" href="#c" x="1100" y="568" width="7" height="5"/>
<use id="p53" href="#c" x="1091" y="579" width="8" height="3"/>
<use id="p54" href="#c" x="1102" y="583" width="7" height="6"/>
<use id="p55" href="#c" x="1146" y="514" width="7" height="3"/>
<use id="p56" href="#c" x="1160" y="516" width="4" height="4"/>
<use id="p57" href="#c" x="1172" y="517" width="8" height="3"/>
<use id="p58" href="#d" x="1182" y="522" width="10" height="1.5"/>
<use id="p59" href="#c" x="1195" y="519" width="9" height="4"/>
<use id="p60" href="#c" x="1209" y="509" width="8" height="3"/>
<use id="p61" href="#c" x="1233" y="509" width="8" height="3"/>
<use id="p62" href="#c" x="1215" y="523" width="6" height="2"/>
<use id="p63" href="#d" x="1214" y="529" width="8" height="1.5"/>
<use id="p64" href="#c" x="1228" y="526" width="9" height="5"/>
<use id="p65" href="#c" x="1241" y="523" width="6" height="4"/>
</g>
<g id="nodes-blue">
<use id="b1" href="#d" x="1272" y="504" width="10" height="2"/>
<use id="b2" href="#c" x="1285" y="501" width="8" height="7"/>
<use id="b3" href="#d" x="1308" y="490" width="7" height="2"/>
<use id="b4" href="#c" x="1320" y="488" width="6" height="6"/>
<ellipse id="b5e" cx="1280" cy="525" rx="5" ry="3" fill="#b9e8c9"/>
<use id="b5" href="#g" x="1276" y="526" width="9" height="4"/>
<use id="b6" href="#c" x="1288" y="527" width="5" height="4"/>
<use id="b7" href="#c" x="1297" y="527" width="6" height="4"/>
<use id="b8" href="#c" x="1276" y="533" width="8" height="4"/>
<use id="b9" href="#c" x="1308" y="535" width="7" height="4"/>
<use id="b10" href="#d" x="1318" y="512" width="20" height="2"/>
<use id="b11" href="#c" x="1330" y="508" width="8" height="4"/>
<use id="b12" href="#c" x="1350" y="508" width="6" height="4"/>
<use id="b13" href="#c" x="1364" y="505" width="7" height="6"/>
<use id="b14" href="#c" x="1383" y="517" width="7" height="6"/>
<use id="b15" href="#t" x="1399" y="518" width="9" height="7"/>
<use id="b16" href="#c" x="1417" y="521" width="6" height="4"/>
<use id="b17" href="#c" x="1433" y="517" width="6" height="7"/>
<use id="b18" href="#c" x="1419" y="535" width="6" height="4"/>
<use id="b19" href="#c" x="1443" y="511" width="5" height="4"/>
<use id="b20" href="#c" x="1457" y="508" width="7" height="4"/>
<use id="b21" href="#d" x="1445" y="512" width="20" height="1.5"/>
<use id="b22" href="#c" x="1452" y="478" width="8" height="5"/>
<use id="b23" href="#c" x="1474" y="478" width="7" height="3"/>
<use id="b24" href="#c" x="1488" y="479" width="8" height="4"/>
<use id="b25" href="#d" x="1497" y="483" width="10" height="1.5"/>
<use id="b26" href="#c" x="1507" y="481" width="5" height="5"/>
<use id="b27" href="#t" x="1472" y="515" width="7" height="8"/>
<use id="b28" href="#c" x="1487" y="521" width="5" height="4"/>
<use id="b29" href="#c" x="1499" y="519" width="7" height="4"/>
<use id="b30" href="#c" x="1509" y="520" width="5" height="6"/>
<use id="b31" href="#d" x="1497" y="525" width="10" height="1.5"/>
<use id="b32" href="#c" x="1521" y="506" width="7" height="4"/>
<use id="b33" href="#c" x="1527" y="486" width="8" height="3"/>
<use id="b34" href="#d" x="1542" y="493" width="10" height="1.5"/>
<use id="b35" href="#c" x="1555" y="492" width="8" height="3"/>
<use id="b36" href="#c" x="1566" y="490" width="8" height="3"/>
<use id="b37" href="#p" x="1577" y="480" width="11" height="6"/>
<use id="b38" href="#c" x="1581" y="487" width="5" height="4"/>
<use id="b39" href="#c" x="1593" y="488" width="5" height="4"/>
<use id="b40" href="#d" x="1595" y="501" width="12" height="1.5"/>
<use id="b41" href="#c" x="1610" y="497" width="6" height="7"/>
</g>
<g id="nodes-purple2">
<use id="q1" href="#c" x="1747" y="352" width="8" height="3"/>
<use id="q2" href="#c" x="1759" y="352" width="9" height="5"/>
<use id="q3" href="#c" x="1773" y="347" width="8" height="3"/>
<use id="q4" href="#d" x="1787" y="352" width="5" height="1.5"/>
<use id="q5" href="#c" x="1798" y="354" width="7" height="3"/>
<use id="q6" href="#t" x="1817" y="355" width="9" height="7"/>
<use id="q7" href="#c" x="1841" y="363" width="5" height="5"/>
<use id="q8" href="#c" x="1850" y="366" width="8" height="4"/>
<use id="q9" href="#p" x="1859" y="351" width="13" height="4"/>
<use id="q10" href="#c" x="1864" y="356" width="5" height="5"/>
<use id="q11" href="#c" x="1876" y="356" width="7" height="3"/>
<use id="q12" href="#wb" x="1884" y="358" width="3" height="3"/>
<use id="q13" href="#c" x="1891" y="353" width="5" height="7"/>
<use id="q14" href="#d" x="1865" y="366" width="12" height="1.5"/>
<use id="q15" href="#c" x="1887" y="369" width="5" height="4"/>
<use id="q16" href="#c" x="1886" y="373" width="5" height="3"/>
<use id="q17" href="#t" x="1864" y="376" width="8" height="6"/>
<use id="q18" href="#d" x="1850" y="384" width="9" height="1.5"/>
<use id="q19" href="#d" x="1807" y="402" width="11" height="1.5"/>
<use id="q20" href="#c" x="1820" y="399" width="6" height="6"/>
</g>
<g id="nodes-green">
<use id="g1" href="#c" x="1951" y="176" width="6" height="5"/>
<use id="g2" href="#c" x="1952" y="183" width="6" height="5"/>
<use id="g3" href="#d" x="1950" y="192" width="5" height="1.5"/>
<use id="g4" href="#c" x="2036" y="168" width="7" height="4"/>
<use id="g5" href="#d" x="2025" y="184" width="5" height="1.5"/>
<use id="g6" href="#d" x="2020" y="192" width="3" height="4"/>
<use id="g7" href="#wb" x="2010" y="202" width="14" height="4"/>
<use id="g8" href="#y" x="2028" y="197" width="8" height="10"/>
<use id="g9" href="#c" x="2030" y="213" width="6" height="6"/>
<rect id="g10" x="2016" y="209" width="12" height="2" fill="#c98a2a"/>
<use id="g11" href="#wb" x="2012" y="218" width="8" height="5"/>
<use id="g12" href="#d" x="2023" y="222" width="10" height="1.5"/>
<circle id="g13" cx="2040" cy="221" r="3" fill="#2a2a2a"/>
<use id="g14" href="#c" x="2033" y="226" width="5" height="4"/>
<use id="g15" href="#d" x="2025" y="227" width="3" height="3"/>
<use id="g16" href="#c" x="1990" y="202" width="8" height="3"/>
<use id="g17" href="#c" x="1979" y="205" width="7" height="3"/>
<use id="g18" href="#d" x="2053" y="196" width="4" height="6"/>
<use id="g19" href="#d" x="2059" y="197" width="3" height="4"/>
<use id="g20" href="#d" x="2065" y="198" width="3" height="4"/>
<use id="g21" href="#d" x="2070" y="199" width="3" height="4"/>
<use id="g22" href="#d" x="2077" y="194" width="3" height="3"/>
<use id="g23" href="#wb" x="2081" y="193" width="8" height="5"/>
<use id="g24" href="#d" x="2078" y="205" width="5" height="4"/>
<use id="g25" href="#wb" x="2084" y="210" width="9" height="5"/>
<use id="g26" href="#d" x="2095" y="200" width="4" height="3"/>
<use id="g27" href="#d" x="2103" y="200" width="3" height="3"/>
<use id="g28" href="#wb" x="2110" y="193" width="13" height="6"/>
<use id="g29" href="#d" x="2102" y="160" width="5" height="6"/>
<use id="g30" href="#c" x="2113" y="158" width="6" height="6"/>
<use id="g31" href="#d" x="2119" y="165" width="4" height="4"/>
<use id="g32" href="#d" x="2122" y="171" width="4" height="4"/>
<use id="g33" href="#d" x="2118" y="181" width="10" height="1.5"/>
<use id="g34" href="#c" x="2133" y="177" width="5" height="10"/>
<use id="g35" href="#d" x="2143" y="174" width="5" height="4"/>
<use id="g36" href="#c" x="2136" y="190" width="5" height="5"/>
<rect id="g37" x="2141" y="192" width="6" height="6" fill="#c0392b" stroke="#333" stroke-width="0.6"/>
<use id="g38" href="#d" x="2130" y="200" width="4" height="3"/>
<use id="g39" href="#y" x="2131" y="213" width="9" height="5"/>
<use id="g40" href="#wb" x="2143" y="229" width="6" height="3"/>
<use id="g41" href="#d" x="2150" y="203" width="3" height="5"/>
<use id="g42" href="#d" x="2157" y="205" width="3" height="3"/>
<use id="g43" href="#d" x="2157" y="197" width="4" height="3"/>
<use id="g44" href="#d" x="2158" y="165" width="11" height="2"/>
<use id="g45" href="#d" x="2160" y="172" width="11" height="2"/>
<use id="g46" href="#c" x="2175" y="170" width="5" height="6"/>
<use id="g47" href="#d" x="2182" y="168" width="4" height="3"/>
<use id="g48" href="#d" x="2166" y="181" width="8" height="2"/>
<use id="g49" href="#c" x="2175" y="179" width="5" height="6"/>
<use id="g50" href="#d" x="2184" y="180" width="4" height="3"/>
<use id="g51" href="#wb" x="2205" y="189" width="12" height="8"/>
<use id="g52" href="#br" x="2205" y="197" width="13" height="14"/>
<use id="g53" href="#t" x="2220" y="188" width="8" height="22"/>
<use id="g54" href="#d" x="2215" y="183" width="3" height="3"/>
<use id="g55" href="#d" x="2223" y="183" width="3" height="3"/>
<use id="g56" href="#c" x="2243" y="198" width="8" height="6"/>
<use id="g57" href="#c" x="2252" y="209" width="8" height="3"/>
<use id="g58" href="#c" x="2233" y="210" width="7" height="7"/>
<use id="g59" href="#d" x="2175" y="218" width="4" height="10"/>
<use id="g60" href="#d" x="2188" y="220" width="3" height="3"/>
<use id="g61" href="#d" x="2197" y="222" width="3" height="3"/>
<use id="g62" href="#d" x="2206" y="218" width="3" height="3"/>
<use id="g63" href="#d" x="2214" y="220" width="3" height="3"/>
<use id="g64" href="#d" x="2223" y="221" width="4" height="3"/>
<use id="g65" href="#d" x="2232" y="220" width="3" height="3"/>
<use id="g66" href="#d" x="2246" y="220" width="3" height="3"/>
<use id="g67" href="#d" x="2254" y="219" width="3" height="3"/>
<use id="g68" href="#d" x="2175" y="232" width="4" height="9"/>
<use id="g69" href="#d" x="2188" y="235" width="3" height="3"/>
<use id="g70" href="#d" x="2195" y="237" width="3" height="3"/>
<use id="g71" href="#d" x="2200" y="232" width="3" height="3"/>
<use id="g72" href="#d" x="2205" y="238" width="5" height="3"/>
<use id="g73" href="#d" x="2212" y="233" width="5" height="4"/>
<use id="g74" href="#d" x="2220" y="234" width="3" height="3"/>
<use id="g75" href="#d" x="2234" y="236" width="6" height="3"/>
<use id="g76" href="#c" x="2244" y="232" width="7" height="4"/>
<use id="g77" href="#d" x="2185" y="244" width="3" height="3"/>
<use id="g78" href="#d" x="2203" y="246" width="3" height="3"/>
<use id="g79" href="#wb" x="2165" y="218" width="6" height="3"/>
<use id="g80" href="#wb" x="2165" y="235" width="6" height="3"/>
<use id="g81" href="#t" x="2020" y="240" width="13" height="20"/>
<use id="g82" href="#c" x="2043" y="243" width="10" height="7"/>
<use id="g83" href="#t" x="2057" y="243" width="8" height="12"/>
<use id="g84" href="#d" x="2010" y="257" width="5" height="1.5"/>
<use id="g85" href="#d" x="2038" y="283" width="18" height="6"/>
<use id="g86" href="#d" x="2080" y="229" width="7" height="1.5"/>
<use id="g87" href="#d" x="2113" y="239" width="7" height="1.5"/>
<use id="g88" href="#d" x="2235" y="170" width="3" height="3"/>
</g>
<g id="nodes-right">
<use id="s1" href="#c" x="2350" y="310" width="6" height="4"/>
<use id="s2" href="#c" x="2362" y="314" width="6" height="5"/>
<use id="s3" href="#c" x="2348" y="322" width="5" height="4"/>
<use id="s4" href="#c" x="2372" y="320" width="5" height="4"/>
<use id="s5" href="#c" x="2383" y="328" width="6" height="5"/>
<use id="s6" href="#c" x="2356" y="332" width="6" height="4"/>
<use id="s7" href="#c" x="2390" y="340" width="7" height="5"/>
<use id="s8" href="#c" x="2400" y="343" width="5" height="5"/>
<use id="s9" href="#c" x="2410" y="343" width="5" height="5"/>
<use id="a1" href="#d" x="2467" y="219" width="3" height="3"/>
<use id="a2" href="#br" x="2509" y="219" width="11" height="9"/>
<use id="a3" href="#wb" x="2521" y="220" width="10" height="17"/>
<use id="a4" href="#d" x="2497" y="248" width="4" height="5"/>
<use id="a5" href="#d" x="2503" y="248" width="3" height="4"/>
<use id="a6" href="#d" x="2508" y="249" width="4" height="6"/>
<use id="a7" href="#c" x="2514" y="249" width="5" height="5"/>
<use id="a8" href="#d" x="2517" y="247" width="8" height="1.5"/>
<use id="a9" href="#d" x="2522" y="255" width="4" height="4"/>
<use id="a10" href="#d" x="2529" y="254" width="3" height="3"/>
<use id="a11" href="#d" x="2533" y="257" width="4" height="5"/>
<use id="a12" href="#d" x="2534" y="251" width="3" height="3"/>
<use id="a13" href="#d" x="2543" y="252" width="4" height="3"/>
<use id="a14" href="#d" x="2548" y="253" width="4" height="3"/>
<use id="a15" href="#d" x="2557" y="249" width="3" height="3"/>
<use id="a16" href="#wb" x="2557" y="237" width="13" height="5"/>
<use id="a17" href="#d" x="2562" y="255" width="3" height="3"/>
<use id="a18" href="#d" x="2566" y="249" width="3" height="4"/>
<use id="a19" href="#d" x="2572" y="251" width="3" height="3"/>
<use id="a20" href="#d" x="2580" y="250" width="4" height="3"/>
<use id="a21" href="#wb" x="2583" y="247" width="9" height="10"/>
<use id="a22" href="#d" x="2586" y="258" width="4" height="3"/>
<use id="a23" href="#d" x="2596" y="256" width="4" height="3"/>
<use id="a24" href="#c" x="2599" y="248" width="5" height="5"/>
<use id="a25" href="#c" x="2600" y="257" width="6" height="6"/>
<use id="a26" href="#br" x="2606" y="239" width="11" height="8"/>
<use id="a27" href="#wb" x="2617" y="238" width="11" height="17"/>
<use id="a28" href="#d" x="2495" y="260" width="15" height="2"/>
<use id="a29" href="#d" x="2555" y="265" width="8" height="1.5"/>
<use id="a30" href="#d" x="2567" y="262" width="3" height="4"/>
<use id="a31" href="#wb" x="2575" y="264" width="9" height="6"/>
<use id="a32" href="#d" x="2605" y="262" width="5" height="5"/>
<use id="a33" href="#d" x="2613" y="262" width="3" height="3"/>
<use id="a34" href="#d" x="2480" y="286" width="11" height="2"/>
<use id="a35" href="#d" x="2482" y="293" width="10" height="2"/>
<use id="a36" href="#c" x="2493" y="284" width="8" height="7"/>
<use id="a37" href="#c" x="2507" y="290" width="7" height="4"/>
<use id="a38" href="#c" x="2515" y="288" width="7" height="4"/>
<use id="a39" href="#c" x="2526" y="286" width="5" height="4"/>
<use id="a40" href="#c" x="2534" y="286" width="6" height="4"/>
<use id="a41" href="#c" x="2467" y="305" width="10" height="4"/>
<use id="a42" href="#c" x="2488" y="309" width="7" height="4"/>
<use id="a43" href="#c" x="2496" y="307" width="7" height="8"/>
<use id="a44" href="#ob" x="2512" y="303" width="13" height="3"/>
<use id="a45" href="#c" x="2531" y="300" width="6" height="7"/>
<use id="a46" href="#d" x="2479" y="329" width="11" height="2"/>
<use id="a47" href="#c" x="2493" y="327" width="8" height="8"/>
<use id="a48" href="#c" x="2467" y="333" width="10" height="4"/>
<use id="a49" href="#c" x="2505" y="336" width="7" height="4"/>
<use id="a50" href="#c" x="2514" y="326" width="7" height="4"/>
<use id="a51" href="#c" x="2527" y="325" width="5" height="4"/>
<use id="a52" href="#c" x="2535" y="325" width="6" height="4"/>
<use id="a53" href="#c" x="2485" y="355" width="7" height="4"/>
<use id="a54" href="#c" x="2495" y="353" width="7" height="8"/>
<use id="a55" href="#ob" x="2512" y="353" width="13" height="3"/>
<use id="a56" href="#c" x="2528" y="350" width="7" height="7"/>
<use id="a57" href="#c" x="2473" y="372" width="7" height="3"/>
<use id="a58" href="#c" x="2489" y="370" width="7" height="7"/>
<use id="a59" href="#c" x="2504" y="371" width="5" height="4"/>
<use id="a60" href="#d" x="2527" y="372" width="11" height="1.5"/>
<use id="a61" href="#c" x="2553" y="367" width="8" height="9"/>
<use id="a62" href="#c" x="2564" y="370" width="5" height="4"/>
<use id="a63" href="#c" x="2473" y="383" width="7" height="3"/>
<use id="a64" href="#c" x="2489" y="382" width="7" height="7"/>
<use id="a65" href="#d" x="2489" y="390" width="8" height="1.5"/>
<use id="a66" href="#c" x="2504" y="378" width="5" height="4"/>
<use id="a67" href="#c" x="2522" y="378" width="8" height="6"/>
<use id="a68" href="#c" x="2543" y="374" width="5" height="4"/>
<use id="a69" href="#c" x="2552" y="379" width="8" height="9"/>
<use id="a70" href="#c" x="2564" y="381" width="5" height="4"/>
<use id="a71" href="#c" x="2575" y="379" width="8" height="6"/>
<use id="a72" href="#c" x="2502" y="392" width="8" height="7"/>
<use id="a73" href="#c" x="2552" y="389" width="8" height="8"/>
<use id="a74" href="#c" x="2561" y="392" width="5" height="4"/>
<use id="a75" href="#c" x="2469" y="407" width="8" height="3"/>
<use id="x1" href="#g" x="2704" y="280" width="11" height="3"/>
<use id="x2" href="#g" x="2704" y="291" width="11" height="3"/>
<use id="x3" href="#g" x="2704" y="302" width="11" height="3"/>
<use id="x4" href="#g" x="2704" y="313" width="11" height="3"/>
<use id="x5" href="#g" x="2704" y="324" width="11" height="3"/>
<use id="x6" href="#c" x="2811" y="295" width="8" height="5"/>
</g>
<g id="nodes-bundle">
<rect id="bd1" x="2638" y="588" width="78" height="15" fill="#777"/>
<path d="M2640,591 L2714,592 M2640,594 L2714,595 M2640,597 L2714,598 M2640,600 L2714,600" fill="none" stroke="#a8a8a8" stroke-width="0.7"/>
<rect id="bd2" x="2636" y="588" width="4" height="15" fill="#202020"/>
<use id="bd3" href="#c" x="2714" y="587" width="7" height="16"/>
</g>
<g id="nodes-rightpanel">
<use id="o1" href="#o" x="2902" y="168" width="9" height="4"/>
<use id="o2" href="#o" x="2924" y="170" width="5" height="7"/>
<use id="o3" href="#o" x="2902" y="189" width="9" height="4"/>
<use id="o4" href="#o" x="2924" y="191" width="5" height="7"/>
<use id="o5" href="#o" x="2902" y="205" width="9" height="4"/>
<use id="o6" href="#o" x="2924" y="207" width="5" height="7"/>
<use id="o7" href="#o" x="2902" y="221" width="9" height="4"/>
<use id="o8" href="#o" x="2924" y="223" width="5" height="7"/>
<use id="o9" href="#o" x="2902" y="235" width="9" height="4"/>
<use id="o10" href="#o" x="2924" y="237" width="5" height="7"/>
<use id="o11" href="#o" x="2902" y="253" width="9" height="4"/>
<use id="o12" href="#o" x="2924" y="255" width="5" height="7"/>
<use id="o13" href="#o" x="2902" y="264" width="9" height="4"/>
<use id="o14" href="#o" x="2902" y="278" width="9" height="4"/>
<use id="o15" href="#o" x="2924" y="280" width="5" height="7"/>
<use id="o16" href="#o" x="2902" y="296" width="9" height="4"/>
<use id="o17" href="#o" x="2924" y="298" width="5" height="7"/>
<use id="o18" href="#o" x="2916" y="313" width="9" height="4"/>
<use id="o19" href="#o" x="2928" y="315" width="5" height="7"/>
<use id="o20" href="#o" x="2912" y="326" width="9" height="4"/>
<use id="o21" href="#o" x="2930" y="327" width="5" height="7"/>
<use id="o22" href="#o" x="2918" y="339" width="9" height="4"/>
<use id="o23" href="#o" x="2930" y="340" width="5" height="7"/>
<use id="o24" href="#o" x="2918" y="356" width="9" height="4"/>
<use id="o25" href="#o" x="2930" y="357" width="5" height="7"/>
<use id="o26" href="#o" x="2918" y="372" width="9" height="4"/>
<use id="o27" href="#o" x="2930" y="373" width="5" height="7"/>
<use id="o28" href="#wb" x="2893" y="177" width="4" height="2"/>
<use id="o29" href="#wb" x="2893" y="198" width="4" height="2"/>
<use id="o30" href="#wb" x="2893" y="214" width="4" height="2"/>
<use id="o31" href="#wb" x="2893" y="230" width="4" height="2"/>
<use id="o32" href="#wb" x="2893" y="244" width="4" height="2"/>
<use id="o33" href="#wb" x="2893" y="262" width="4" height="2"/>
<use id="o34" href="#wb" x="2893" y="287" width="4" height="2"/>
<use id="o35" href="#wb" x="2906" y="322" width="4" height="2"/>
<use id="o36" href="#wb" x="2908" y="350" width="4" height="2"/>
<use id="o37" href="#wb" x="2908" y="370" width="4" height="2"/>
<use id="o38" href="#d" x="2912" y="175" width="8" height="1.5"/>
<use id="o39" href="#d" x="2912" y="196" width="8" height="1.5"/>
<use id="o40" href="#d" x="2912" y="212" width="8" height="1.5"/>
<use id="o41" href="#d" x="2916" y="229" width="4" height="1.5"/>
<use id="o42" href="#d" x="2912" y="242" width="8" height="1.5"/>
<use id="o43" href="#d" x="2912" y="260" width="8" height="1.5"/>
<use id="o44" href="#d" x="2910" y="304" width="7" height="1.5"/>
<use id="o45" href="#d" x="2918" y="334" width="7" height="1.5"/>
<use id="o46" href="#d" x="2918" y="364" width="7" height="1.5"/>
<use id="o47" href="#d" x="2918" y="380" width="7" height="1.5"/>
<use id="o48" href="#o" x="2866" y="295" width="17" height="9"/>
<use id="o49" href="#o" x="2853" y="317" width="11" height="8"/>
<rect id="o50" x="2892" y="338" width="10" height="12" fill="#c8c8d0" stroke="#444" stroke-width="0.6"/>
<use id="o51" href="#o" x="2876" y="355" width="9" height="7"/>
<use id="o52" href="#o" x="2876" y="362" width="9" height="8"/>
<use id="o53" href="#o" x="2868" y="358" width="5" height="5"/>
<use id="o54" href="#o" x="2846" y="368" width="7" height="6"/>
<use id="o55" href="#c" x="2860" y="370" width="4" height="3"/>
<use id="o56" href="#c" x="2875" y="332" width="6" height="3"/>
<use id="o57" href="#c" x="2882" y="340" width="5" height="3"/>
<use id="o58" href="#c" x="2866" y="344" width="6" height="3"/>
<use id="o59" href="#c" x="2872" y="348" width="6" height="3"/>
<use id="o60" href="#c" x="2865" y="352" width="5" height="3"/>
<use id="o61" href="#c" x="2889" y="333" width="6" height="3"/>
<use id="o62" href="#d" x="2850" y="331" width="10" height="1.5"/>
<use id="o63" href="#d" x="2848" y="347" width="8" height="1.5"/>
<use id="o64" href="#d" x="2846" y="379" width="9" height="1.5"/>
<use id="o65" href="#d" x="2860" y="341" width="6" height="1.5"/>
</g>
<g id="nodes-cream1">
<use id="k1" href="#d" x="1378" y="604" width="10" height="1.5"/>
<use id="k2" href="#c" x="1395" y="601" width="8" height="5"/>
<use id="k3" href="#c" x="1409" y="602" width="7" height="4"/>
<use id="k4" href="#c" x="1421" y="585" width="5" height="8"/>
<use id="k5" href="#d" x="1428" y="593" width="5" height="2"/>
<use id="k6" href="#c" x="1440" y="594" width="6" height="4"/>
<use id="k7" href="#c" x="1442" y="585" width="6" height="3"/>
<use id="k8" href="#c" x="1443" y="611" width="7" height="5"/>
<use id="k9" href="#c" x="1442" y="621" width="7" height="5"/>
<use id="k10" href="#c" x="1458" y="612" width="5" height="4"/>
<use id="k11" href="#c" x="1468" y="613" width="5" height="4"/>
<use id="k12" href="#p" x="1469" y="618" width="10" height="5"/>
<use id="k13" href="#c" x="1476" y="583" width="7" height="8"/>
<use id="k14" href="#c" x="1480" y="591" width="6" height="3"/>
<use id="k15" href="#c" x="1501" y="590" width="7" height="6"/>
<use id="k16" href="#c" x="1476" y="600" width="7" height="5"/>
<use id="k17" href="#c" x="1494" y="604" width="5" height="4"/>
<use id="k18" href="#c" x="1500" y="611" width="5" height="4"/>
<use id="k19" href="#c" x="1513" y="610" width="6" height="4"/>
<use id="k20" href="#c" x="1522" y="606" width="5" height="4"/>
<use id="k21" href="#c" x="1525" y="612" width="7" height="8"/>
<use id="k22" href="#c" x="1530" y="618" width="5" height="4"/>
<use id="k23" href="#c" x="1540" y="615" width="5" height="3"/>
<use id="k24" href="#c" x="1545" y="603" width="5" height="3"/>
<use id="k25" href="#c" x="1550" y="601" width="7" height="5"/>
<use id="k26" href="#c" x="1557" y="603" width="5" height="3"/>
<use id="k27" href="#p" x="1565" y="608" width="11" height="5"/>
<use id="k28" href="#c" x="1578" y="608" width="5" height="4"/>
<use id="k29" href="#c" x="1585" y="612" width="5" height="4"/>
<use id="k30" href="#c" x="1582" y="591" width="6" height="4"/>
<use id="k31" href="#c" x="1590" y="584" width="7" height="4"/>
<use id="k32" href="#c" x="1598" y="589" width="7" height="5"/>
<use id="k33" href="#c" x="1612" y="597" width="6" height="5"/>
<use id="k34" href="#c" x="1578" y="578" width="6" height="3"/>
<use id="k35" href="#c" x="1565" y="577" width="6" height="3"/>
<use id="k36" href="#c" x="1586" y="576" width="6" height="3"/>
<use id="k37" href="#c" x="1601" y="582" width="6" height="3"/>
<use id="k38" href="#c" x="1577" y="641" width="7" height="6"/>
<use id="k39" href="#c" x="1584" y="639" width="7" height="6"/>
<use id="k40" href="#c" x="1575" y="652" width="5" height="4"/>
<use id="k41" href="#c" x="1582" y="660" width="5" height="4"/>
<use id="k42" href="#c" x="1573" y="665" width="5" height="4"/>
<use id="k43" href="#c" x="1562" y="653" width="7" height="6"/>
<use id="k44" href="#c" x="1549" y="653" width="6" height="4"/>
<use id="k45" href="#c" x="1531" y="648" width="6" height="4"/>
<use id="k46" href="#c" x="1537" y="657" width="5" height="4"/>
<use id="k47" href="#c" x="1528" y="661" width="5" height="3"/>
<use id="k48" href="#c" x="1515" y="655" width="5" height="4"/>
<use id="k49" href="#c" x="1505" y="640" width="6" height="4"/>
<use id="k50" href="#c" x="1485" y="645" width="5" height="4"/>
<use id="k51" href="#c" x="1480" y="658" width="9" height="7"/>
<use id="k52" href="#c" x="1493" y="660" width="5" height="5"/>
<use id="k53" href="#c" x="1500" y="660" width="5" height="5"/>
<use id="k54" href="#c" x="1486" y="670" width="5" height="4"/>
<use id="k55" href="#c" x="1495" y="672" width="7" height="7"/>
<use id="k56" href="#c" x="1510" y="671" width="5" height="4"/>
<use id="k57" href="#c" x="1478" y="677" width="6" height="5"/>
<use id="k58" href="#c" x="1562" y="678" width="7" height="7"/>
<use id="k59" href="#c" x="1571" y="680" width="5" height="4"/>
<use id="k60" href="#c" x="1441" y="650" width="5" height="4"/>
<use id="k61" href="#c" x="1445" y="658" width="7" height="5"/>
<use id="k62" href="#c" x="1468" y="651" width="5" height="4"/>
<use id="k63" href="#c" x="1448" y="634" width="5" height="4"/>
<use id="k64" href="#c" x="1467" y="628" width="5" height="4"/>
<use id="k65" href="#c" x="1474" y="631" width="5" height="4"/>
<use id="k66" href="#c" x="1485" y="632" width="5" height="4"/>
<use id="k67" href="#c" x="1484" y="638" width="5" height="4"/>
<use id="k68" href="#c" x="1496" y="640" width="5" height="4"/>
<use id="k69" href="#d" x="1430" y="613" width="8" height="1.5"/>
<use id="k70" href="#d" x="1455" y="600" width="9" height="1.5"/>
<use id="k71" href="#d" x="1423" y="651" width="8" height="1.5"/>
<use id="k72" href="#d" x="1468" y="667" width="8" height="1.5"/>
<use id="k73" href="#d" x="1508" y="616" width="8" height="1.5"/>
<use id="k74" href="#d" x="1530" y="623" width="8" height="1.5"/>
<use id="k75" href="#d" x="1595" y="607" width="8" height="1.5"/>
<use id="k76" href="#d" x="1590" y="620" width="8" height="1.5"/>
<use id="k77" href="#d" x="1460" y="678" width="8" height="1.5"/>
<use id="k78" href="#d" x="1495" y="681" width="8" height="1.5"/>
<use id="k79" href="#d" x="1550" y="684" width="9" height="1.5"/>
<use id="k80" href="#d" x="1567" y="672" width="7" height="1.5"/>
</g>
<g id="nodes-cream2">
<ellipse class="lb" cx="1466" cy="746" rx="10" ry="6"/>
<ellipse class="lb" cx="1512" cy="766" rx="10" ry="6"/>
<ellipse class="lb" cx="1553" cy="767" rx="10" ry="6"/>
<ellipse class="lb" cx="1569" cy="781" rx="9" ry="6"/>
<ellipse class="lb" cx="1589" cy="780" rx="8" ry="5"/>
<use id="e0" href="#c" x="1321" y="729" width="6" height="7"/>
<use id="e1" href="#d" x="1391" y="716" width="4" height="3"/>
<use id="e2" href="#c" x="1443" y="737" width="6" height="5"/>
<use id="e3" href="#c" x="1443" y="744" width="9" height="6"/>
<use id="e4" href="#d" x="1453" y="738" width="6" height="1.5"/>
<use id="e5" href="#c" x="1462" y="748" width="8" height="6"/>
<use id="e6" href="#c" x="1478" y="742" width="9" height="5"/>
<use id="e7" href="#c" x="1489" y="756" width="8" height="4"/>
<use id="e8" href="#d" x="1500" y="756" width="5" height="1.5"/>
<use id="e9" href="#c" x="1512" y="758" width="6" height="4"/>
<use id="e10" href="#c" x="1520" y="762" width="6" height="5"/>
<use id="e11" href="#c" x="1530" y="751" width="9" height="7"/>
<use id="e12" href="#d" x="1545" y="754" width="5" height="1.5"/>
<use id="e13" href="#c" x="1553" y="755" width="8" height="5"/>
<use id="e14" href="#c" x="1565" y="761" width="7" height="5"/>
<use id="e15" href="#c" x="1585" y="770" width="7" height="4"/>
<use id="e16" href="#c" x="1578" y="777" width="8" height="5"/>
<use id="e17" href="#d" x="1597" y="773" width="5" height="1.5"/>
<use id="e18" href="#c" x="1605" y="776" width="5" height="7"/>
<use id="e19" href="#d" x="1560" y="778" width="7" height="2"/>
<use id="e20" href="#d" x="1594" y="780" width="6" height="1.5"/>
<use id="e21" href="#d" x="1510" y="766" width="9" height="2"/>
</g>
</g>
</svg>
